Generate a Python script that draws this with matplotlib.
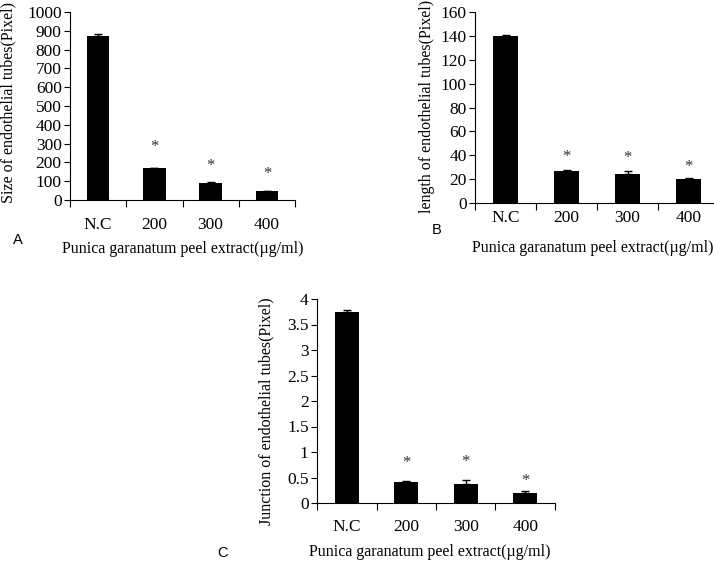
import matplotlib
matplotlib.use("Agg")
import matplotlib.pyplot as plt

W, H = 714, 561
SERIF = ["Liberation Serif", "DejaVu Serif"]
SANS = ["Liberation Sans", "DejaVu Sans"]

categorias = ["N.C", "200", "300", "400"]
xlabel = "Punica garanatum peel extract(\u00b5g/ml)"

# painel A
a_val = [870, 168, 92, 48]
a_err = [12, 0, 5, 0]
a_star = [282, 181, 138]
# painel B
b_val = [140, 26.5, 24.5, 20]
b_err = [1, 1, 2.5, 1]
b_star = [38.5, 37.7, 30]
# painel C
c_val = [3.75, 0.41, 0.38, 0.19]
c_err = [0.04, 0.02, 0.08, 0.05]
c_star = [0.78, 0.80, 0.43]

# letra, valores, erros, estrelas, ylabel, yticks, ylim,
# caixa px (x0, x1, ytopo, ybase), y categorias, ylabel xy, letra xy, xlabel xy
paineis = [
    ("A", a_val, a_err, a_star, "Size of endothelial tubes(Pixel)",
     list(range(0, 1001, 100)), [str(v) for v in range(0, 1001, 100)], 1000,
     (70, 295, 12, 200), 225, (8, 102), (18, 240), (183, 249)),
    ("B", b_val, b_err, b_star, "length of endothelial tubes(Pixel)",
     list(range(0, 161, 20)), [str(v) for v in range(0, 161, 20)], 160,
     (475, 719, 12, 203), 218, (427, 106), (437, 230), (593, 248)),
    ("C", c_val, c_err, c_star, "Junction of endothelial tubes(Pixel)",
     [0, 0.5, 1, 1.5, 2, 2.5, 3, 3.5, 4],
     ["0", "0.5", "1", "1.5", "2", "2.5", "3", "3.5", "4"], 4,
     (317, 555, 299, 503), 527, (266, 411), (222, 553), (430, 552)),
]

fig = plt.figure(figsize=(W / 100, H / 100), dpi=100)

for (letra, vals, errs, stars, ylab, yt, ytl, ymax, box, ycat, ylxy,
     lxy, xlxy) in paineis:
    x0, x1, yt0, yb0 = box
    ax = fig.add_axes([x0 / W, 1 - yb0 / H, (x1 - x0) / W, (yb0 - yt0) / H])
    xs = range(len(categorias))
    ax.bar(xs, vals, width=0.4, color="black", zorder=2)
    ax.errorbar(xs, vals, yerr=[[0] * 4, errs], fmt="none", ecolor="black",
                elinewidth=1, capsize=3, capthick=1, zorder=3)
    for i, s in enumerate(stars, 1):
        ax.text(i, s, "*", ha="center", va="center", fontsize=12,
                color="#333333", family=SERIF)
    ax.set_xlim(-0.5, 3.5)
    ax.set_ylim(0, ymax)
    ax.set_yticks(yt)
    ax.set_yticklabels(ytl, family=SERIF, fontsize=12.5)
    ax.set_xticks([-0.5, 0.5, 1.5, 2.5, 3.5])
    ax.set_xticklabels([])
    ax.tick_params(axis="x", length=5, width=0.8, direction="out")
    ax.tick_params(axis="y", length=4, width=0.8, direction="out", pad=2)
    for i, c in enumerate(categorias):
        fig.text((x0 + (x1 - x0) * (i + 0.5) / 4) / W, 1 - ycat / H, c,
                 ha="center", va="center", fontsize=12.5, family=SERIF)
    for sp in ["top", "right"]:
        ax.spines[sp].set_visible(False)
    for sp in ["left", "bottom"]:
        ax.spines[sp].set_linewidth(0.8)
    fig.text(ylxy[0] / W, 1 - ylxy[1] / H, ylab, rotation=90,
             ha="center", va="center", family=SERIF, fontsize=11.5)
    fig.text(lxy[0] / W, 1 - lxy[1] / H, letra, family=SANS, fontsize=10.5,
             ha="center", va="center")
    fig.text(xlxy[0] / W, 1 - xlxy[1] / H, xlabel, family=SERIF, fontsize=11.5,
             ha="center", va="center")

fig.savefig("out.png", dpi=100)
